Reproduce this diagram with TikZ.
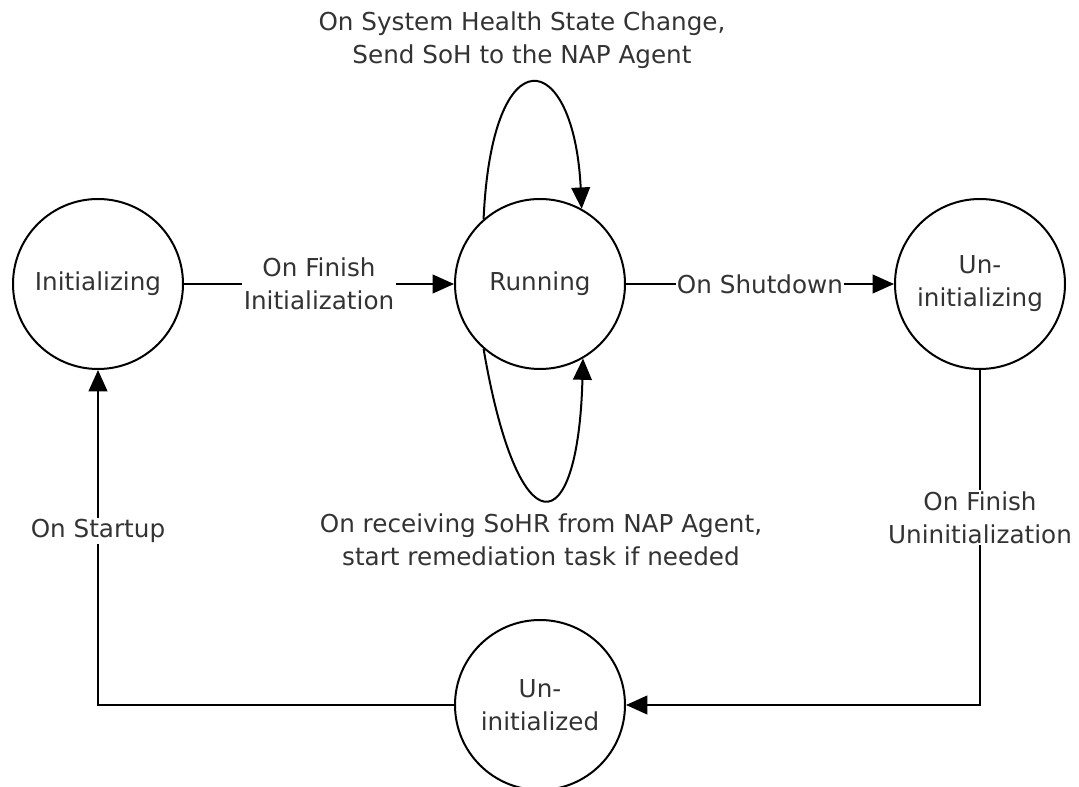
\documentclass[tikz,border=0pt]{standalone}
\usepackage{fontspec}
\setmainfont{DejaVu Sans}
\usetikzlibrary{arrows.meta}

\begin{document}
\begin{tikzpicture}[x=0.75pt,y=-0.75pt,
	font=\fontsize{18.5}{24.75}\selectfont,
	state_node/.style={circle,draw,line width=1.5pt,minimum size=127.5pt,inner sep=0pt,align=center,text=black!80},
	edge_label/.style={fill=white,inner sep=1pt,align=center,text=black!80},
	arr/.style={line width=1.5pt,-{Triangle[length=16pt,width=14pt]}}]

		\useasboundingbox (0,0) rectangle (1079,787);

		\node[state_node] (init) at (98,284) {Initializing};
		\node[state_node] (run) at (540,284) {Running};
		\node[state_node] (uning) at (980,284) {Un-\\initializing};
		\node[state_node] (uned) at (540,705) {Un-\\initialized};

		\node[edge_label] (lbl_soh) at (522,40) {On System Health State Change,\\Send SoH to the NAP Agent};
		\node[edge_label] (lbl_sohr) at (541,540) {On receiving SoHR from NAP Agent,\\start remediation task if needed};

		\draw[arr] (init) -- node[edge_label] (lbl_fin) {On Finish\\Initialization} (run);
		\draw[arr] (run) -- node[edge_label] (lbl_shut) {On Shutdown} (uning);
		\draw[arr] (uning) |- node[edge_label,pos=0.22] (lbl_unfin) {On Finish\\Uninitialization} (uned);
		\draw[arr] (uned) -| node[edge_label,pos=0.76] (lbl_start) {On Startup} (init);

		\draw[arr] (run.131) .. controls (492,32) and (574,48) .. (run.61);
		\draw[arr] (run.-131) .. controls (518,550) and (578,545) .. (run.-60);
		\end{tikzpicture}
\end{document}
